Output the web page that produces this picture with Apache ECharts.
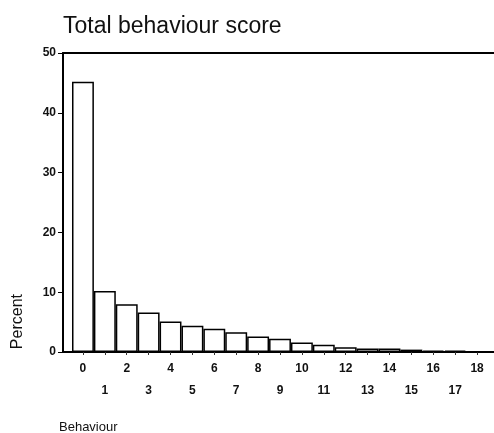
<!DOCTYPE html>
<html>
<head>
<meta charset="utf-8">
<script src="https://cdn.jsdelivr.net/npm/echarts@6/dist/echarts.min.js"></script>
<style>
html,body{margin:0;padding:0;background:#fff;}
#chart{width:494px;height:433px;}
</style>
</head>
<body>
<div id="chart"></div>
<script>
var scores = ['0','1','2','3','4','5','6','7','8','9','10','11','12','13','14','15','16','17','18'] ;
var percents = [45.2, 10.2, 8.0, 6.6, 5.1, 4.4, 3.9, 3.3, 2.6, 2.2, 1.6, 1.2, 0.8, 0.6, 0.6, 0.4, 0.25, 0.25, 0.1] ;
var yTicks = [0, 10, 20, 30, 40, 50] ;

var font = '"Liberation Sans", Arial, sans-serif' ;
var chart = echarts.init(document.getElementById('chart'), null, {renderer:'canvas'}) ;

var option = {
	animation: false,
	backgroundColor: '#fff',
	title: {
		text: 'Total behaviour score',
		left: 58, top: 10,
		textStyle: {fontFamily: font, fontSize: 23, fontWeight: 'normal', color: '#111'}
	},
	// grid 0 holds the bars, grid 1 draws the frame lines and y labels
	grid: [
		{left: 72, right: 6, top: 53, bottom: 81},
		{left: 63, right: 0, top: 53, bottom: 81}
	],
	xAxis: [
		{
			type: 'category', gridIndex: 0, data: scores,
			axisLine: {show: false},
			axisTick: {show: true, alignWithLabel: true, length: 3, lineStyle: {color: '#333', width: 1}},
			axisLabel: {
				interval: 0, margin: 6,
				fontFamily: font, fontSize: 12, fontWeight: 'bold', color: '#111',
				lineHeight: 22, verticalAlign: 'top',
				formatter: function(v, i){ return i % 2 ? '\n' + v : v ; }
			}
		},
		{
			type: 'value', gridIndex: 1, position: 'bottom',
			axisLine: {show: true, lineStyle: {color: '#000', width: 2}},
			axisTick: {show: false}, axisLabel: {show: false}, splitLine: {show: false}
		},
		{
			type: 'value', gridIndex: 1, position: 'top',
			axisLine: {show: true, lineStyle: {color: '#000', width: 2}},
			axisTick: {show: false}, axisLabel: {show: false}, splitLine: {show: false}
		}
	],
	yAxis: [
		{
			type: 'value', gridIndex: 0, min: yTicks[0], max: yTicks[yTicks.length-1], interval: 10,
			show: false
		},
		{
			type: 'value', gridIndex: 1, min: yTicks[0], max: yTicks[yTicks.length-1], interval: 10,
			axisLine: {show: true, lineStyle: {color: '#000', width: 2}},
			axisTick: {show: true, length: 5, lineStyle: {color: '#000', width: 1}},
			axisLabel: {margin: 7, fontFamily: font, fontSize: 12, fontWeight: 'bold', color: '#111'},
			splitLine: {show: false}
		}
	],
	graphic: [
		{
			type: 'text', left: 10, top: 294, rotation: Math.PI / 2,
			style: {text: 'Percent', font: '16px ' + font, fill: '#111'}
		},
		{
			type: 'text', left: 59, top: 421,
			style: {text: 'Behaviour', font: '13px ' + font, fill: '#111'}
		}
	],
	series: [
		{
			name: 'Percent', type: 'bar',
			xAxisIndex: 0, yAxisIndex: 0,
			data: percents,
			barCategoryGap: '0%',
			itemStyle: {color: '#fff', borderColor: '#000', borderWidth: 1.5}
		}
	]
} ;
chart.setOption(option) ;
</script>
</body>
</html>
